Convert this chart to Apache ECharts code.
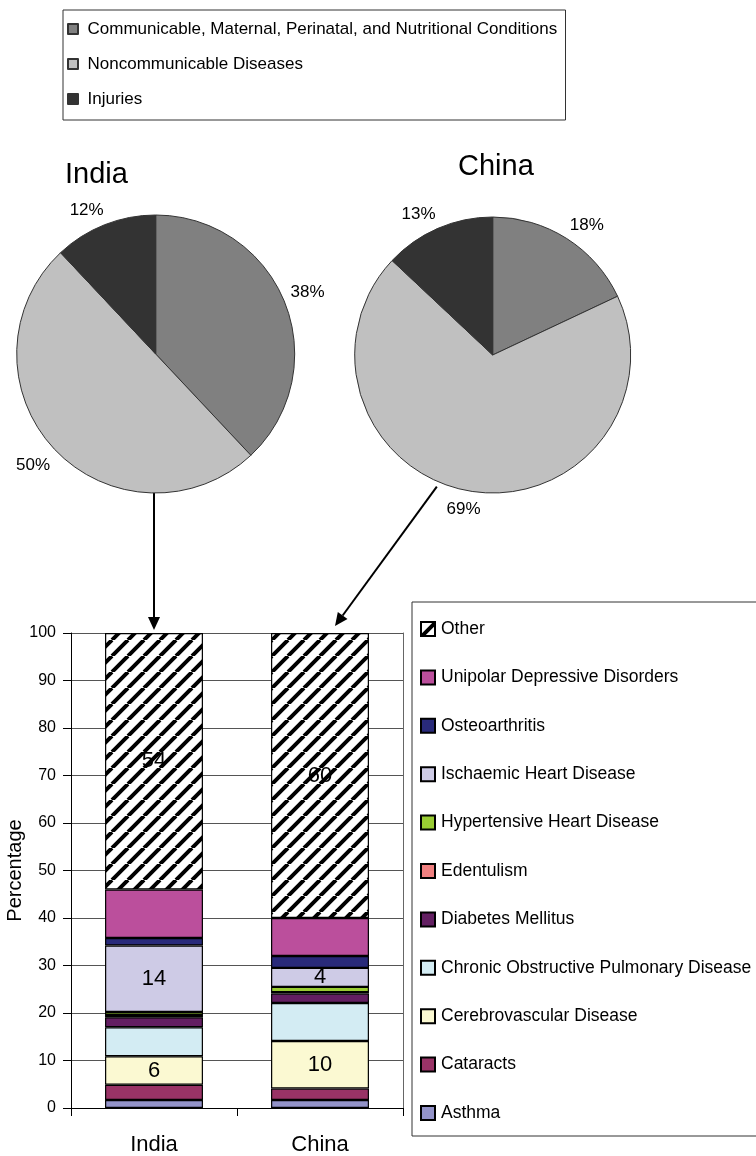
<!DOCTYPE html>
<html>
<head>
<meta charset="utf-8">
<script src="https://cdn.jsdelivr.net/npm/echarts@6/dist/echarts.min.js"></script>
<style>
  html, body { margin: 0; padding: 0; background: #fff; }
  #chart { width: 756px; height: 1156px; }
</style>
</head>
<body>
<div id="chart"></div>
<script>
// Broad cause groups shown in the two pies (percent of burden)
const groupNames = [
  'Communicable, Maternal, Perinatal, and Nutritional Conditions',
  'Noncommunicable Diseases',
  'Injuries'
];
const groupColors = ['#808080', '#c0c0c0', '#333333'];
const indiaShares = [38, 50, 12];
const chinaShares = [18, 69, 13];

// Breakdown of noncommunicable diseases, stacked bottom to top
const countries = ['India', 'China'];
const causeNames = [
  'Asthma',
  'Cataracts',
  'Cerebrovascular Disease',
  'Chronic Obstructive Pulmonary Disease',
  'Diabetes Mellitus',
  'Edentulism',
  'Hypertensive Heart Disease',
  'Ischaemic Heart Disease',
  'Osteoarthritis',
  'Unipolar Depressive Disorders',
  'Other'
];
const indiaPct = [1.7, 3.2, 6, 6.1, 2.1, 0.5, 0.6, 14, 1.6, 10.2, 54];
const chinaPct = [1.7, 2.4, 10, 8, 2, 0.3, 1.1, 4, 2.5, 8, 60];
const labelledCauses = ['Cerebrovascular Disease', 'Ischaemic Heart Disease', 'Other'];
const causeColors = [
  '#9292c8', '#993366', '#fbf9d2', '#d3ecf3', '#631f62', '#f08080',
  '#99cc33', '#cecbe6', '#292a7a', '#bb4f9c', null
];
const yMin = 0, yMax = 100, yStep = 10;

const FONT = '"Liberation Sans", Arial, Helvetica, sans-serif';

// diagonal black hatch on white for the "Other" segment
function hatchPattern() {
  const s = 16;
  const c = document.createElement('canvas');
  c.width = s; c.height = s;
  const g = c.getContext('2d');
  g.fillStyle = '#fff';
  g.fillRect(0, 0, s, s);
  g.strokeStyle = '#000';
  g.lineWidth = 4;
  g.beginPath();
  for (const o of [-s, 0, s]) {
    g.moveTo(o, s);
    g.lineTo(o + s, 0);
  }
  g.stroke();
  return { image: c, repeat: 'repeat' };
}
const hatch = hatchPattern();

const squareIcon = 'path://M0,0H10V10H0Z';

const pieGeom = {
  India: { cx: 155.7, cy: 354, r: 139 },
  China: { cx: 492.7, cy: 355, r: 138 }
};

// puts each percentage label just outside the rim, with the label box
// pushed away from the slice's middle direction
function pieLabelLayout(shares, geom) {
  const total = shares.reduce((a, b) => a + b, 0);
  const mids = [];
  let acc = 0;
  shares.forEach(v => { mids.push((acc + v / 2) / total * 2 * Math.PI); acc += v; });
  const clamp = v => Math.max(-1, Math.min(1, v));
  return p => {
    const a = mids[p.dataIndex];
    const dx = Math.sin(a), dy = -Math.cos(a);
    const w = p.labelRect.width, h = p.labelRect.height;
    const d = geom.r + 6;
    const px = geom.cx + d * dx, py = geom.cy + d * dy;
    return {
      x: px + clamp(dx * 2.5) * w / 2,
      y: py + clamp(dy * 2.5) * h / 2 + (dy > 0 ? 4 : 0),
      align: 'center', verticalAlign: 'middle'
    };
  };
}

function pieSeries(name, shares) {
  const g = pieGeom[name];
  return {
    type: 'pie',
    name: name,
    center: [g.cx, g.cy],
    radius: g.r,
    startAngle: 90,
    clockwise: true,
    avoidLabelOverlap: false,
    emphasis: { disabled: true },
    itemStyle: { borderColor: '#333', borderWidth: 1 },
    label: {
      show: true, position: 'outside', formatter: '{c}%',
      fontFamily: FONT, fontSize: 17, color: '#000'
    },
    labelLine: { show: false },
    labelLayout: pieLabelLayout(shares, g),
    data: shares.map((v, i) => ({ name: groupNames[i], value: v, itemStyle: { color: groupColors[i] } }))
  };
}

const barSeries = causeNames.map((name, i) => ({
  type: 'bar',
  name: name,
  stack: 'total',
  barWidth: '59%',
  xAxisIndex: 0,
  yAxisIndex: 0,
  emphasis: { disabled: true },
  itemStyle: { color: causeColors[i] || hatch, borderColor: '#000', borderWidth: 1.2 },
  label: {
    show: labelledCauses.includes(name),
    position: 'inside',
    formatter: '{c}',
    fontFamily: FONT, fontSize: 22, color: '#000'
  },
  data: [indiaPct[i], chinaPct[i]]
}));

const chart = echarts.init(document.getElementById('chart'), null, { renderer: 'canvas' });

const option = {
  animation: false,
  backgroundColor: '#fff',
  textStyle: { fontFamily: FONT },
  title: [
    { text: 'India', left: 65, top: 160, padding: 0,
      textStyle: { fontFamily: FONT, fontSize: 29, fontWeight: 'normal', color: '#000' } },
    { text: 'China', left: 458, top: 152, padding: 0,
      textStyle: { fontFamily: FONT, fontSize: 29, fontWeight: 'normal', color: '#000' } }
  ],
  legend: [
    {
      data: groupNames,
      orient: 'vertical',
      left: 63, top: 10,
      padding: [10.5, 3, 12.5, 4],
      icon: squareIcon,
      itemWidth: 19, itemHeight: 10,
      itemGap: 18,
      selectedMode: false,
      borderColor: '#333', borderWidth: 1,
      textStyle: {
        fontFamily: FONT, fontSize: 17, lineHeight: 17, color: '#000',
        width: 475, overflow: 'truncate', ellipsis: ''
      }
    },
    {
      data: causeNames.slice().reverse(),
      orient: 'vertical',
      left: 412, top: 602,
      padding: [18, 40, 14, 8],
      icon: squareIcon,
      itemWidth: 16, itemHeight: 14,
      itemGap: 30.4,
      selectedMode: false,
      borderColor: '#333', borderWidth: 1,
      textStyle: { fontFamily: FONT, fontSize: 17.5, color: '#000' }
    }
  ],
  grid: { left: 71, right: 353, top: 633, bottom: 46 },
  xAxis: {
    type: 'category',
    data: countries,
    axisLine: { show: true, lineStyle: { color: '#000', width: 1 } },
    axisTick: { show: true, length: 8, interval: 0, lineStyle: { color: '#000' } },
    axisLabel: { fontFamily: FONT, fontSize: 22, color: '#000', margin: 26 },
    splitLine: { show: false }
  },
  yAxis: [
    {
      type: 'value',
      min: yMin, max: yMax, interval: yStep,
      name: 'Percentage',
      nameLocation: 'middle',
      nameRotate: 90,
      nameGap: 37,
      nameTextStyle: { fontFamily: FONT, fontSize: 20, color: '#000' },
      axisLine: { show: true, lineStyle: { color: '#000', width: 1 } },
      axisTick: { show: true, length: 8, lineStyle: { color: '#000' } },
      axisLabel: { fontFamily: FONT, fontSize: 16, color: '#000', margin: 15 },
      splitLine: { show: true, lineStyle: { color: '#555', width: 1 } }
    },
    {
      type: 'value',
      position: 'right',
      min: yMin, max: yMax, interval: yStep,
      axisLine: { show: true, lineStyle: { color: '#666', width: 1 } },
      axisTick: { show: false },
      axisLabel: { show: false },
      splitLine: { show: false }
    }
  ],
  series: [
    pieSeries('India', indiaShares),
    pieSeries('China', chinaShares),
    ...barSeries
  ]
};

chart.setOption(option);

// arrows linking each pie's noncommunicable slice to its bar
function arrow(x1, y1, x2, y2) {
  const ang = Math.atan2(y2 - y1, x2 - x1);
  const L = 13, W = 6;
  const bx = x2 - L * Math.cos(ang), by = y2 - L * Math.sin(ang);
  const px = -Math.sin(ang) * W, py = Math.cos(ang) * W;
  return [
    { type: 'line', silent: true, shape: { x1: x1, y1: y1, x2: bx, y2: by },
      style: { stroke: '#000', lineWidth: 2 } },
    { type: 'polygon', silent: true, shape: { points: [[x2, y2], [bx + px, by + py], [bx - px, by - py]] },
      style: { fill: '#000' } }
  ];
}

const indiaTop = chart.convertToPixel({ xAxisIndex: 0, yAxisIndex: 0 }, ['India', yMax]);
const chinaTop = chart.convertToPixel({ xAxisIndex: 0, yAxisIndex: 0 }, ['China', yMax]);
const gi = pieGeom.India, gc = pieGeom.China;
const startAng = 203 / 180 * Math.PI;
const chinaStart = [gc.cx + (gc.r + 5) * Math.sin(startAng), gc.cy - (gc.r + 5) * Math.cos(startAng)];

chart.setOption({
  graphic: [
    ...arrow(indiaTop[0], gi.cy + gi.r, indiaTop[0], indiaTop[1] - 3),
    ...arrow(chinaStart[0], chinaStart[1], chinaTop[0] + 15, chinaTop[1] - 7)
  ]
});
</script>
</body>
</html>
